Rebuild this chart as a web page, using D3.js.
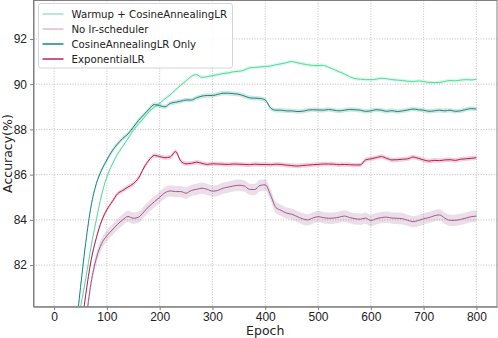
<!DOCTYPE html>
<meta charset="utf-8">
<style>
body { margin: 0; background: #fff; }
svg { font-family: "DejaVu Sans", sans-serif; }
.grid line { stroke: #b0b0b0; stroke-width: 0.8; stroke-dasharray: 1,1.6; }
.axis path, .axis line { stroke: #808080; }
.axis text { fill: #222; font-size: 12px; }
</style>
<body>
<svg width="498" height="338"></svg>
<script src="https://cdn.jsdelivr.net/npm/d3@7"></script>
<script>

// epochs sampled every 10
var epochs = [40,50,60,70,80,90,100,110,120,130,140,150,160,170,180,190,200,210,220,230,
  240,250,260,270,280,290,300,310,320,330,340,350,360,370,380,390,400,410,420,430,
  440,450,460,470,480,490,500,510,520,530,540,550,560,570,580,590,600,610,620,630,
  640,650,660,670,680,690,700,710,720,730,740,750,760,770,780,790,800];

var warmupAcc = [78.5,80.1,81.4,82.8,84.0,85.1,85.9,86.45,86.9,87.25,87.6,87.95,88.25,88.5,88.78,88.98,89.15,89.35,89.53,89.75,
  89.95,90.15,90.35,90.42,90.3,90.33,90.38,90.42,90.47,90.5,90.55,90.57,90.62,90.72,90.74,90.76,90.78,90.8,90.86,90.9,
  90.95,91.0,90.95,90.9,90.86,90.83,90.82,90.83,90.75,90.65,90.55,90.45,90.33,90.25,90.22,90.2,90.2,90.22,90.26,90.24,
  90.2,90.18,90.16,90.13,90.12,90.14,90.12,90.08,90.07,90.08,90.12,90.16,90.15,90.18,90.2,90.19,90.22];

var noSchedAcc = [76.0,77.8,79.5,81.2,82.3,82.95,83.3,83.55,83.8,84.0,84.15,84.07,84.12,84.35,84.6,84.8,85.0,85.2,85.28,85.25,
  85.25,85.18,85.3,85.35,85.4,85.35,85.27,85.3,85.4,85.45,85.5,85.53,85.5,85.35,85.34,85.52,85.55,85.1,84.55,84.42,
  84.3,84.25,84.15,84.05,84.0,84.08,84.14,84.1,84.07,84.08,84.12,84.17,84.1,84.05,84.03,84.08,83.97,84.05,84.1,84.12,
  84.08,84.07,84.05,83.98,83.92,83.97,84.05,84.1,84.18,84.22,84.08,83.98,83.98,84.02,84.08,84.14,84.17];

var cosineAcc = [78.8,81.0,83.0,84.6,85.6,86.2,86.65,87.05,87.35,87.6,87.8,88.1,88.4,88.65,88.9,89.1,89.05,89.0,89.15,89.2,
  89.25,89.3,89.3,89.4,89.47,89.5,89.5,89.55,89.6,89.6,89.58,89.55,89.48,89.4,89.38,89.37,89.3,88.95,88.85,88.85,
  88.82,88.82,88.79,88.8,88.85,88.87,88.86,88.85,88.88,88.85,88.82,88.85,88.88,88.87,88.85,88.8,88.82,88.87,88.85,88.8,
  88.83,88.79,88.82,88.86,88.9,88.87,88.85,88.8,88.82,88.85,88.82,88.85,88.8,88.82,88.88,88.92,88.9];

var expAcc = [77.0,78.9,80.7,82.2,83.2,83.95,84.45,84.8,85.15,85.3,85.45,85.6,85.85,86.3,86.65,86.85,86.8,86.75,86.78,87.02,
  86.6,86.48,86.5,86.55,86.5,86.45,86.48,86.47,86.46,86.45,86.47,86.46,86.45,86.44,86.46,86.45,86.45,86.44,86.46,86.45,
  86.42,86.4,86.38,86.4,86.42,86.44,86.45,86.47,86.47,86.46,86.44,86.45,86.44,86.43,86.43,86.65,86.7,86.75,86.8,86.72,
  86.65,86.66,86.68,86.7,86.78,86.72,86.65,86.6,86.63,86.62,86.65,86.66,86.63,86.68,86.7,86.72,86.75];

// spread of the shaded band around each curve
var bandHalf = [0.08, 0.25, 0.1, 0.1];

var labels = ["Warmup + CosineAnnealingLR", "No lr-scheduler", "CosineAnnealingLR Only", "ExponentialLR"];
var colors = ["#52d9a0", "#9c5a8c", "#17877b", "#b81e4e"];
var legendColors = ["#7fe0b8", "#d9a6c7", "#3a9c92", "#c04b6e"];
var xTicks = [0,100,200,300,400,500,600,700,800];
var yTicks = [82,84,86,88,90,92];

var allAcc = [warmupAcc, noSchedAcc, cosineAcc, expAcc];

var svg = d3.select("svg"),
    mLeft = 33.5, mRight = 497, mTop = 0.5, mBottom = 306.7;

var x = d3.scaleLinear().domain([-39, 839]).range([mLeft, mRight]);
var y = d3.scaleLinear().domain([80.16, 93.7]).range([mBottom, mTop]);

svg.append("defs").append("clipPath").attr("id", "clip")
  .append("rect").attr("x", mLeft).attr("y", mTop).attr("width", mRight - mLeft).attr("height", mBottom - mTop);

// grid
var grid = svg.append("g").attr("class", "grid");
grid.selectAll(".gx").data(xTicks).enter().append("line")
  .attr("x1", d => x(d)).attr("x2", d => x(d)).attr("y1", mTop).attr("y2", mBottom);
grid.selectAll(".gy").data(yTicks).enter().append("line")
  .attr("x1", mLeft).attr("x2", mRight).attr("y1", d => y(d)).attr("y2", d => y(d));

var plot = svg.append("g").attr("clip-path", "url(#clip)");

allAcc.forEach(function(acc, i) {
  var pts = epochs.map((e, k) => ({e: e, v: acc[k]}));
  var area = d3.area().x(d => x(d.e)).y0(d => y(d.v - bandHalf[i])).y1(d => y(d.v + bandHalf[i]))
    .curve(d3.curveMonotoneX);
  plot.append("path").datum(pts).attr("d", area)
    .attr("fill", colors[i]).attr("fill-opacity", 0.2);
});
allAcc.forEach(function(acc, i) {
  var pts = epochs.map((e, k) => ({e: e, v: acc[k]}));
  var line = d3.line().x(d => x(d.e)).y(d => y(d.v)).curve(d3.curveMonotoneX);
  plot.append("path").datum(pts).attr("d", line)
    .attr("fill", "none").attr("stroke", colors[i]).attr("stroke-width", 1);
});

// axes
svg.append("g").attr("class", "axis")
  .attr("transform", "translate(0," + mBottom + ")")
  .call(d3.axisBottom(x).tickValues(xTicks).tickSize(3.5).tickPadding(2).tickSizeOuter(0));
svg.append("g").attr("class", "axis")
  .attr("transform", "translate(" + mLeft + ",0)")
  .call(d3.axisLeft(y).tickValues(yTicks).tickSize(3.5).tickPadding(3).tickSizeOuter(0));

svg.append("rect").attr("x", mLeft).attr("y", mTop).attr("width", mRight - mLeft).attr("height", mBottom - mTop)
  .attr("fill", "none").attr("stroke", "#808080").attr("stroke-width", 1);

svg.append("text").attr("x", (mLeft + mRight) / 2).attr("y", 335)
  .attr("text-anchor", "middle").attr("font-size", 12.5).attr("fill", "#222").text("Epoch");
svg.append("text").attr("transform", "translate(12," + ((mTop + mBottom) / 2) + ") rotate(-90)")
  .attr("text-anchor", "middle").attr("font-size", 12.5).attr("fill", "#222").text("Accuracy(%)");

// legend
var lg = svg.append("g");
lg.append("rect").attr("x", 38.5).attr("y", 3.5).attr("width", 194).attr("height", 64.5).attr("rx", 2.5)
  .attr("fill", "#fff").attr("fill-opacity", 0.85).attr("stroke", "#d6d6d6");
labels.forEach(function(lab, i) {
  var yy = 14 + i * 15;
  lg.append("line").attr("x1", 42.5).attr("x2", 63.5).attr("y1", yy).attr("y2", yy)
    .attr("stroke", legendColors[i]).attr("stroke-width", i >= 2 ? 1.8 : 1.2);
  lg.append("text").attr("x", 71.5).attr("y", yy + 4).attr("font-size", 10.2).attr("fill", "#222").text(lab);
});

</script>
</body>
